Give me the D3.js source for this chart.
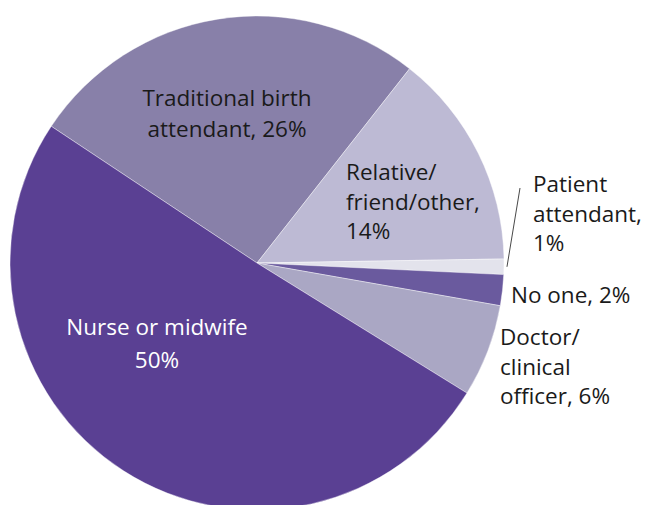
<!DOCTYPE html>
<html>
<head>
<meta charset="utf-8">
<script src="https://cdn.jsdelivr.net/npm/d3@7"></script>
<style>
  html, body { margin: 0; padding: 0; background: #ffffff; }
  svg { display: block; }
  text { font-family: "Open Sans", "Noto Sans", sans-serif; }
</style>
</head>
<body>
<svg id="chart" width="648" height="505"></svg>
<script>
// slices in clockwise order, starting at the upper-left boundary
const categories = ["Traditional birth attendant", "Relative/friend/other", "Patient attendant", "No one", "Doctor/clinical officer", "Nurse or midwife"];
const shares = [26, 14, 1, 2, 6, 50];
const sliceColors = ["#8880a9", "#bdbad4", "#e3e3ec", "#6a5a9e", "#aaa7c4", "#5a4093"];

// label text, split into lines
const labelLines = [
  ["Traditional birth", "attendant, 26%"],
  ["Relative/", "friend/other,", "14%"],
  ["Patient", "attendant,", "1%"],
  ["No one, 2%"],
  ["Doctor/", "clinical", "officer, 6%"],
  ["Nurse or midwife", "50%"]
];

const width = 648, height = 505;
const cx = 257, cy = 263, radius = 247;
const startDeg = -56.4;
const lineH = 29.5;

// where each label block sits (first baseline), anchor and colour
const labelLayout = [
  { x: 227, y: 106, anchor: "middle", fill: "#1a1a1a", gap: 31 },
  { x: 346, y: 180, anchor: "start", fill: "#1a1a1a", gap: lineH },
  { x: 533, y: 192, anchor: "start", fill: "#1a1a1a", gap: lineH },
  { x: 511, y: 303, anchor: "start", fill: "#1a1a1a", gap: lineH },
  { x: 500, y: 345, anchor: "start", fill: "#1a1a1a", gap: lineH },
  { x: 157, y: 335, anchor: "middle", fill: "#ffffff", gap: 33 }
];

const svg = d3.select("#chart");
const g = svg.append("g").attr("transform", `translate(${cx},${cy})`);

const pie = d3.pie()
  .sort(null)
  .value(d => d)
  .startAngle(startDeg * Math.PI / 180)
  .endAngle(startDeg * Math.PI / 180 + 2 * Math.PI);

const arc = d3.arc().innerRadius(0).outerRadius(radius);

g.selectAll("path.slice")
  .data(pie(shares))
  .enter()
  .append("path")
  .attr("class", "slice")
  .attr("d", arc)
  .attr("fill", (d, i) => sliceColors[i])
  .attr("stroke", "#ffffff")
  .attr("stroke-width", 0.4);

// leader line for the tiny patient attendant slice
const arcs = pie(shares);
const pa = arcs[2];
const mid = (pa.startAngle + pa.endAngle) / 2;
const edgeX = cx + Math.sin(mid) * (radius + 3);
const edgeY = cy - Math.cos(mid) * (radius + 3);
svg.append("line")
  .attr("x1", 520).attr("y1", 188)
  .attr("x2", edgeX).attr("y2", edgeY)
  .attr("stroke", "#333")
  .attr("stroke-width", 0.9);

labelLines.forEach((lines, i) => {
  const L = labelLayout[i];
  const t = svg.append("text")
    .attr("x", L.x)
    .attr("y", L.y)
    .attr("text-anchor", L.anchor)
    .attr("fill", L.fill)
    .attr("font-size", "22.5px");
  lines.forEach((s, j) => {
    t.append("tspan")
      .attr("x", L.x)
      .attr("dy", j === 0 ? 0 : L.gap)
      .text(s);
  });
});
</script>
</body>
</html>
